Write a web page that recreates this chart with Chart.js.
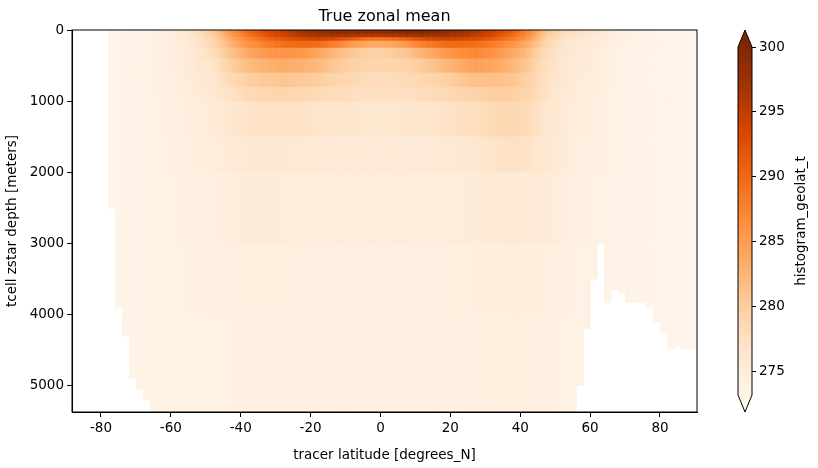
<!DOCTYPE html>
<html>
<head>
<meta charset="utf-8">
<script src="https://cdn.jsdelivr.net/npm/chart.js@4"></script>
<style>
  body { margin: 0; background: #fff; }
  #wrap { position: relative; width: 818px; height: 468px; }
  #main { position: absolute; left: 0; top: 0; }
  #cbar { position: absolute; left: 720px; top: 0; }
</style>
</head>
<body>
<div id="wrap">
  <canvas id="main" width="818" height="468"></canvas>
  <canvas id="cbar" width="98" height="468"></canvas>
</div>
<script>
// latitude column edges (degrees_N), 5 degree bands
const latEdges = [-80,-75,-70,-65,-60,-55,-50,-45,-40,-35,-30,-25,-20,-15,-10,-5,0,5,10,15,20,25,30,35,40,45,50,55,60,65,70,75,80,85,90];
// depth layer edges (meters)
const depthEdges = [0,50,100,150,250,400,600,800,1000,1500,2000,3000,4000,5400];

// zonal mean temperature (K), one row per depth layer
const row0 = [273.3,273.5,273.8,274.5,275.5,277.5,281,286,290,293,295,297,298.5,299,299,299,299,299.5,299.5,299,298,296,294,291,287,281,278,277,276,274.5,274,273.6,273.4,273.3];
const row1 = [273.3,273.5,273.8,274.4,275.3,277,280,285,289,292,294,296,297,297,296.5,296,296.5,297,297.5,297,296.5,295,293,290,286,280,277.5,276.5,275.8,274.5,274,273.6,273.4,273.3];
const row2 = [273.4,273.6,273.9,274.3,275.1,276.8,279.5,284,287.5,290,292,293.5,294,293,291,289,289.5,291,293,294,294,293,291,288.5,285,279.5,277,276,275.5,274.4,273.9,273.6,273.4,273.3];
const row3 = [273.4,273.6,273.9,274.3,275,276.5,279,283,286,288,289.5,290,289.5,287.5,285,283.5,284,285.5,288,289.5,290,289.5,288,286,283,279,276.5,275.8,275.2,274.4,274,273.6,273.4,273.3];
const row4 = [273.4,273.6,273.9,274.3,275,276.3,278,281.5,284,285.5,286,285.5,284,282,280.5,279.5,280,281,283,285,286.5,287,286,284,281.5,278,276.5,275.5,275,274,273.7,273.5,273.4,273.3];
const row5 = [273.4,273.6,273.9,274.3,274.9,276,277,280,282,283,283.5,283,282,280.5,279.5,279,279,279.5,280.5,282,283.5,284.5,284,282.5,280.5,277.5,276.3,275.3,274.9,274,273.7,273.5,273.4,273.3];
const row6 = [273.4,273.6,273.9,274.3,274.8,275.6,276.5,278.5,280,280.5,281,280.5,280,279,278.5,278,278,278.3,279,279.5,280.5,281.5,281.5,281,279.5,277.2,276,275.2,274.8,274,273.7,273.5,273.4,273.3];
const row7 = [273.4,273.6,273.9,274.3,274.7,275.3,276,277.5,278.5,279,279,278.8,278.3,278,277.7,277.4,277.4,277.6,278,278.5,279,279.5,280,280,279,277,275.8,275,274.6,273.9,273.7,273.5,273.4,273.3];
const row8 = [273.4,273.6,273.8,274.2,274.5,275,275.5,276.5,277,277.2,277.2,277,276.8,276.6,276.5,276.4,276.4,276.5,276.6,277,277.3,277.8,278.5,278.8,278,276.5,275.5,274.8,274.5,273.9,273.6,273.5,273.4,273.3];
const row9 = [273.4,273.6,273.8,274.1,274.4,274.7,275,275.6,276,276,276,275.8,275.7,275.6,275.5,275.5,275.5,275.5,275.6,275.8,276,276.3,277,277.3,277,276,275.2,274.6,274.4,273.8,273.6,273.5,273.4,273.3];
const row10 = [273.4,273.6,273.8,274,274.2,274.4,274.5,275,275.2,275.2,275.1,275,275,274.9,274.9,274.9,274.9,274.9,274.9,275,275.1,275.3,275.6,275.8,275.6,275.2,274.8,274.3,274.1,273.7,273.6,273.5,273.4,273.3];
const row11 = [273.4,273.6,273.8,274,274.1,274.2,274.3,274.5,274.6,274.6,274.6,274.5,274.5,274.5,274.5,274.5,274.5,274.5,274.5,274.5,274.6,274.7,274.8,275,274.9,274.6,274.3,274,273.9,273.7,273.5,273.5,273.4,273.3];
const row12 = [273.4,273.6,273.7,273.9,274,274.1,274,274.2,274.3,274.3,274.3,274.3,274.3,274.3,274.3,274.3,274.3,274.3,274.3,274.4,274.4,274.5,274.6,274.6,274.6,274.4,274.1,273.9,273.8,273.6,273.5,273.4,273.4,273.3];
const tempRows = [row0,row1,row2,row3,row4,row5,row6,row7,row8,row9,row10,row11,row12];

// ocean floor depth (m) per 2-degree latitude bin starting at -80
const bottomDepth = [0,2500,3900,4300,4900,5050,5200,
  5400,5400,5400,5400,5400,5400,5400,5400,5400,5400,5400,5400,5400,5400,5400,5400,5400,5400,5400,5400,
  5400,5400,5400,5400,5400,5400,5400,5400,5400,5400,5400,5400,5400,5400,5400,5400,5400,5400,5400,5400,
  5400,5400,5400,5400,5400,5400,5400,5400,5400,5400,5400,5400,5400,5400,5400,5400,5400,5400,5400,5400,5400,
  5000,4200,3500,3000,3830,3650,3700,3830,3830,3830,3900,4100,4250,4480,4450,4480,4480];

const xTicks = [-80,-60,-40,-20,0,20,40,60,80];
const yTicks = [0,1000,2000,3000,4000,5000];
const cbarTicks = [275,280,285,290,295,300];
const vmin = 273.2, vmax = 300;

const oranges = ['#fff5eb','#fee6ce','#fdd0a2','#fdae6b','#fd8d3c','#f16913','#d94801','#a63603','#7f2704'];
function hexRgb(h) { return [1,3,5].map(i => parseInt(h.substr(i,2),16)); }
const orangesRgb = oranges.map(hexRgb);
function colorFor(v) {
    let t = (v - vmin) / (vmax - vmin);
    t = Math.max(0, Math.min(1, t)) * (oranges.length - 1);
    const i = Math.min(oranges.length - 2, Math.floor(t)), f = t - i;
    const a = orangesRgb[i], b = orangesRgb[i + 1];
    return `rgb(${a.map((c, k) => Math.round(c + (b[k] - c) * f)).join(',')})`;
}

// value at a given latitude inside one layer, shaded between band centres
function valueAt(row, lat) {
    const pos = (lat - latEdges[0]) / 5 - 0.5;
    const i = Math.max(0, Math.min(row.length - 2, Math.floor(pos)));
    const f = Math.max(0, Math.min(1, pos - i));
    return row[i] + (row[i + 1] - row[i]) * f;
}

const font = 'DejaVu Sans';
Chart.defaults.font.family = font;
Chart.defaults.font.size = 13.5;
Chart.defaults.color = '#000';

const heatmap = {
    id: 'heatmap',
    beforeDatasetsDraw(chart) {
        const { ctx, chartArea: a, scales: { x, y } } = chart;
        ctx.save();
        ctx.beginPath();
        ctx.rect(a.left, a.top, a.right - a.left, a.bottom - a.top);
        ctx.clip();
        for (let b = 0; b < bottomDepth.length; b++) {
            const floor = bottomDepth[b];
            for (let s = 0; s < 4; s++) {
                const lat0 = -80 + b * 2 + s * 0.5, lat1 = lat0 + 0.5;
                const x0 = x.getPixelForValue(lat0), x1 = x.getPixelForValue(lat1);
                for (let r = 0; r < tempRows.length; r++) {
                    const d0 = depthEdges[r], d1 = Math.min(depthEdges[r + 1], floor);
                    if (d1 <= d0) break;
                    const y0 = y.getPixelForValue(d0), y1 = y.getPixelForValue(d1);
                    ctx.fillStyle = colorFor(valueAt(tempRows[r], lat0 + 0.25));
                    ctx.fillRect(x0, y0, x1 - x0 + 0.6, y1 - y0 + 0.6);
                }
            }
        }
        ctx.restore();
    },
    afterDraw(chart) {
        const { ctx, chartArea: a } = chart;
        ctx.save();
        ctx.strokeStyle = '#000';
        ctx.lineWidth = 1;
        ctx.strokeRect(a.left, a.top, a.right - a.left, a.bottom - a.top);
        ctx.fillStyle = '#000';
        ctx.font = '16px ' + font;
        ctx.textAlign = 'center';
        ctx.textBaseline = 'bottom';
        ctx.fillText('True zonal mean', (a.left + a.right) / 2, a.top - 5);
        ctx.restore();
    }
};

new Chart(document.getElementById('main'), {
    type: 'scatter',
    data: { datasets: [{ data: [] }] },
    options: {
        responsive: false,
        animation: false,
        layout: { padding: { top: 30, right: 121, left: 0, bottom: 0 } },
        plugins: { legend: { display: false }, tooltip: { enabled: false } },
        scales: {
            x: {
                type: 'linear', min: -88.3, max: 90.6,
                afterBuildTicks: s => { s.ticks = xTicks.map(v => ({ value: v })); },
                afterFit: s => { s.height = 56; },
                grid: { drawOnChartArea: false, tickLength: 5, color: '#000' },
                border: { color: '#000' },
                ticks: { padding: 3, maxRotation: 0, callback: v => String(v) },
                title: { display: true, text: 'tracer latitude [degrees_N]', padding: { top: 0 } }
            },
            y: {
                type: 'linear', min: 0, max: 5375, reverse: true,
                afterBuildTicks: s => { s.ticks = yTicks.map(v => ({ value: v })); },
                afterFit: s => { s.width = 72; },
                grid: { drawOnChartArea: false, tickLength: 5, color: '#000' },
                border: { color: '#000' },
                ticks: { padding: 3, callback: v => String(v) },
                title: { display: true, text: 'tcell zstar depth [meters]', padding: { bottom: 4 } }
            }
        }
    },
    plugins: [heatmap]
});

const colorbar = {
    id: 'colorbar',
    beforeDatasetsDraw(chart) {
        const { ctx, chartArea: a, scales: { y } } = chart;
        const top = y.getPixelForValue(vmax), bot = y.getPixelForValue(vmin);
        ctx.save();
        for (let p = Math.floor(top); p < bot; p++) {
            ctx.fillStyle = colorFor(y.getValueForPixel(p + 0.5));
            ctx.fillRect(a.left, p, a.right - a.left, 1.2);
        }
        const mid = (a.left + a.right) / 2;
        ctx.fillStyle = oranges[oranges.length - 1];
        ctx.beginPath();
        ctx.moveTo(a.left, top); ctx.lineTo(mid, top - 17); ctx.lineTo(a.right, top); ctx.closePath();
        ctx.fill();
        ctx.fillStyle = oranges[0];
        ctx.beginPath();
        ctx.moveTo(a.left, bot); ctx.lineTo(mid, bot + 17); ctx.lineTo(a.right, bot); ctx.closePath();
        ctx.fill();
        ctx.strokeStyle = '#000';
        ctx.lineWidth = 1;
        ctx.beginPath();
        ctx.moveTo(a.left, top); ctx.lineTo(mid, top - 17); ctx.lineTo(a.right, top);
        ctx.lineTo(a.right, bot); ctx.lineTo(mid, bot + 17); ctx.lineTo(a.left, bot); ctx.closePath();
        ctx.stroke();
        ctx.fillStyle = '#000';
        ctx.translate(81, (top + bot) / 2);
        ctx.rotate(-Math.PI / 2);
        ctx.textAlign = 'center';
        ctx.textBaseline = 'middle';
        ctx.font = '13.5px ' + font;
        ctx.fillText('histogram_geolat_t', 0, 0);
        ctx.restore();
    }
};

new Chart(document.getElementById('cbar'), {
    type: 'scatter',
    data: { datasets: [{ data: [] }] },
    options: {
        responsive: false,
        animation: false,
        layout: { padding: { top: 47, bottom: 73, left: 18, right: 0 } },
        plugins: { legend: { display: false }, tooltip: { enabled: false } },
        scales: {
            x: { display: false, min: 0, max: 1 },
            y: {
                position: 'right', min: vmin, max: vmax,
                afterBuildTicks: s => { s.ticks = cbarTicks.map(v => ({ value: v })); },
                afterFit: s => { s.width = 66; },
                grid: { drawOnChartArea: false, tickLength: 4, color: '#000' },
                border: { display: false },
                ticks: { padding: 3 }
            }
        }
    },
    plugins: [colorbar]
});
</script>
</body>
</html>
